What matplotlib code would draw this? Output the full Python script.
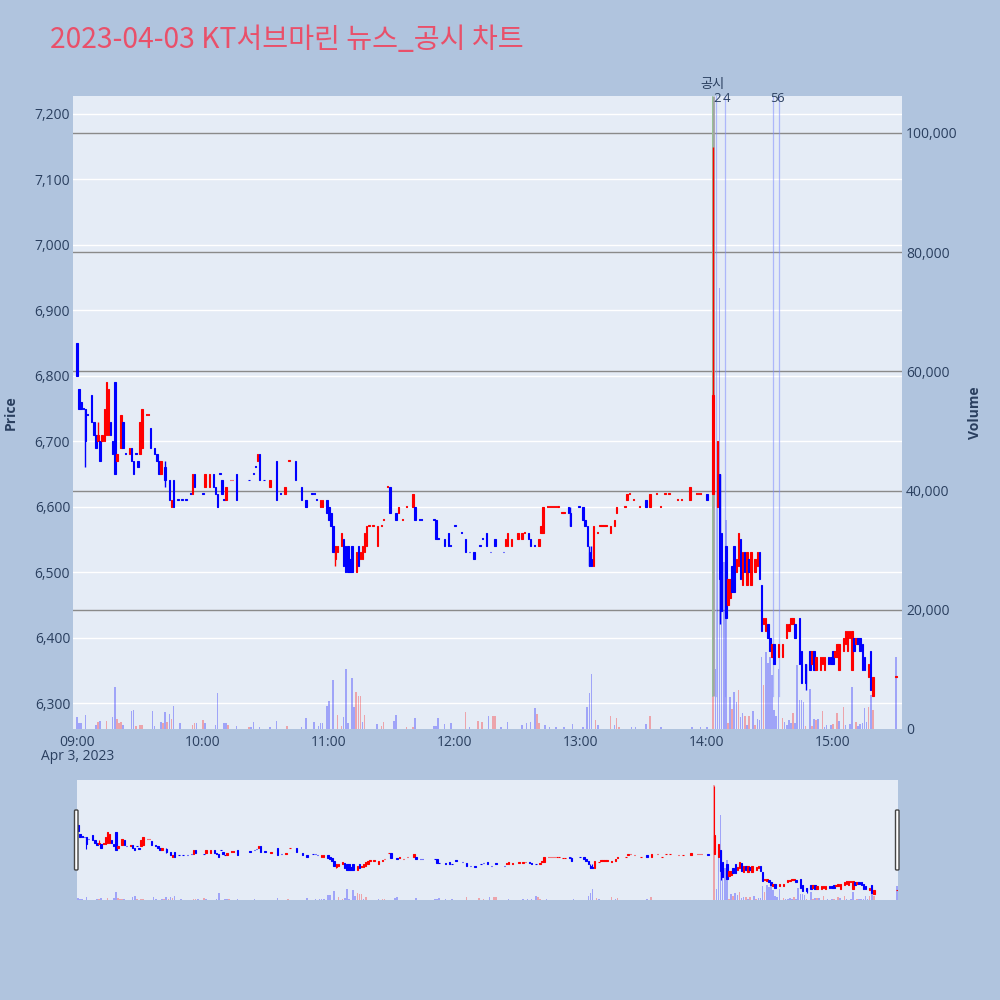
import matplotlib
matplotlib.use("Agg")
import matplotlib.pyplot as plt
from matplotlib.patches import FancyBboxPatch

plt.rcParams['font.family'] = ['Open Sans', 'DejaVu Sans']

# candles: minutes after 09:00, open, high, low, close
c_min = [0, 1, 2, 3, 4, 5, 7, 8, 9, 10, 11, 12, 13, 14, 15, 16, 17, 18, 19, 21,
         22, 23, 25, 26, 27, 28, 29, 30, 31, 33, 34, 35, 37, 38, 39, 40, 42, 44, 45, 46,
         48, 50, 52, 54, 55, 56, 60, 61, 63, 65, 66, 67, 68, 69, 70, 71, 73, 74, 76, 82,
         84, 85, 86, 87, 89, 92, 95, 97, 99, 101, 104, 107, 109, 112, 113, 114, 116, 117, 119, 120,
         121, 122, 123, 124, 126, 127, 128, 129, 130, 131, 133, 134, 135, 136, 137, 138, 139, 141, 143, 145,
         146, 148, 149, 152, 153, 155, 157, 160, 161, 163, 164, 170, 171, 172, 175, 177, 178, 180, 183, 185,
         187, 189, 192, 193, 195, 197, 199, 203, 204, 205, 207, 210, 212, 213, 215, 216, 218, 220, 221, 222,
         224, 225, 226, 227, 228, 229, 231, 232, 234, 235, 239, 241, 242, 243, 244, 245, 246, 248, 249, 250,
         251, 252, 254, 256, 257, 261, 262, 263, 265, 268, 271, 273, 276, 278, 280, 282, 286, 288, 292, 295,
         296, 297, 300, 303, 305, 306, 307, 309, 310, 311, 312, 313, 314, 315, 316, 317, 318, 319, 320, 321,
         323, 324, 325, 326, 327, 328, 329, 330, 331, 332, 334, 336, 338, 339, 340, 341, 342, 344, 345, 347,
         349, 350, 351, 352, 354, 355, 356, 358, 359, 360, 361, 362, 363, 365, 366, 367, 368, 369, 370, 371,
         372, 373, 374, 375, 377, 378, 379, 390]
c_open = [6850, 6780, 6760, 6750, 6750, 6740, 6770, 6730, 6710, 6700, 6700, 6700, 6700, 6710, 6710, 6730, 6700, 6790, 6670, 6690,
          6730, 6680, 6680, 6690, 6670, 6680, 6670, 6680, 6690, 6740, 6740, 6720, 6690, 6680, 6670, 6650, 6660, 6640, 6600, 6640,
          6610, 6610, 6610, 6620, 6620, 6650, 6620, 6630, 6630, 6650, 6630, 6620, 6650, 6640, 6610, 6610, 6640, 6640, 6650, 6640,
          6650, 6660, 6670, 6680, 6640, 6630, 6670, 6620, 6620, 6670, 6670, 6630, 6610, 6620, 6620, 6610, 6600, 6600, 6610, 6600,
          6590, 6570, 6520, 6530, 6540, 6550, 6540, 6540, 6520, 6540, 6500, 6540, 6520, 6520, 6530, 6540, 6570, 6570, 6540, 6570,
          6580, 6630, 6630, 6590, 6590, 6580, 6600, 6600, 6600, 6580, 6580, 6580, 6580, 6550, 6550, 6560, 6540, 6570, 6560, 6550,
          6530, 6530, 6540, 6550, 6560, 6530, 6550, 6530, 6540, 6540, 6540, 6550, 6550, 6560, 6560, 6550, 6540, 6540, 6560, 6560,
          6600, 6600, 6600, 6600, 6600, 6600, 6590, 6590, 6600, 6590, 6600, 6600, 6580, 6570, 6530, 6520, 6510, 6560, 6570, 6570,
          6570, 6570, 6560, 6570, 6590, 6600, 6610, 6620, 6610, 6600, 6610, 6600, 6620, 6600, 6620, 6620, 6610, 6610, 6610, 6620,
          6620, 6620, 6620, 6620, 6600, 6650, 6560, 6540, 6450, 6460, 6510, 6540, 6500, 6510, 6550, 6480, 6530, 6480, 6520, 6480,
          6500, 6510, 6530, 6480, 6420, 6410, 6420, 6400, 6370, 6390, 6370, 6370, 6400, 6410, 6420, 6420, 6420, 6430, 6380, 6360,
          6380, 6360, 6380, 6350, 6350, 6360, 6350, 6370, 6370, 6380, 6370, 6370, 6350, 6380, 6390, 6380, 6400, 6350, 6400, 6390,
          6400, 6400, 6390, 6370, 6340, 6380, 6310, 6340]
c_high = [6850, 6780, 6760, 6750, 6750, 6740, 6770, 6730, 6710, 6730, 6700, 6710, 6750, 6790, 6780, 6730, 6700, 6790, 6680, 6740,
          6730, 6680, 6690, 6690, 6670, 6680, 6670, 6730, 6750, 6740, 6740, 6720, 6690, 6680, 6670, 6670, 6670, 6640, 6610, 6640,
          6610, 6610, 6610, 6620, 6650, 6650, 6620, 6650, 6650, 6650, 6630, 6620, 6650, 6640, 6610, 6630, 6640, 6640, 6650, 6640,
          6650, 6660, 6680, 6680, 6640, 6640, 6670, 6620, 6630, 6670, 6670, 6630, 6610, 6620, 6620, 6610, 6610, 6610, 6610, 6600,
          6590, 6570, 6540, 6540, 6560, 6550, 6540, 6540, 6520, 6540, 6530, 6540, 6530, 6540, 6560, 6570, 6570, 6570, 6570, 6570,
          6580, 6630, 6630, 6590, 6600, 6580, 6600, 6620, 6600, 6580, 6580, 6580, 6580, 6550, 6550, 6560, 6540, 6570, 6560, 6550,
          6530, 6530, 6540, 6550, 6560, 6530, 6550, 6530, 6550, 6560, 6550, 6560, 6560, 6560, 6560, 6550, 6540, 6550, 6570, 6600,
          6600, 6600, 6600, 6600, 6600, 6600, 6590, 6590, 6600, 6600, 6600, 6600, 6580, 6570, 6540, 6540, 6570, 6560, 6570, 6570,
          6570, 6570, 6570, 6580, 6600, 6600, 6620, 6620, 6610, 6600, 6610, 6620, 6620, 6600, 6620, 6620, 6610, 6610, 6630, 6620,
          6620, 6620, 6620, 7150, 6700, 6650, 6560, 6540, 6490, 6490, 6510, 6540, 6520, 6560, 6550, 6530, 6530, 6530, 6520, 6530,
          6520, 6530, 6530, 6480, 6430, 6430, 6420, 6400, 6390, 6390, 6390, 6390, 6420, 6420, 6430, 6430, 6420, 6430, 6380, 6360,
          6380, 6380, 6380, 6370, 6370, 6370, 6370, 6370, 6370, 6380, 6380, 6390, 6390, 6400, 6410, 6410, 6410, 6410, 6400, 6400,
          6400, 6400, 6390, 6370, 6360, 6380, 6340, 6340]
c_low = [6800, 6750, 6750, 6750, 6660, 6740, 6730, 6710, 6690, 6700, 6670, 6700, 6700, 6710, 6710, 6710, 6680, 6650, 6670, 6690,
         6690, 6680, 6680, 6670, 6650, 6680, 6660, 6680, 6690, 6740, 6740, 6690, 6680, 6670, 6650, 6650, 6630, 6610, 6600, 6600,
         6610, 6610, 6610, 6620, 6620, 6630, 6620, 6630, 6630, 6630, 6620, 6600, 6650, 6620, 6610, 6610, 6640, 6640, 6610, 6640,
         6650, 6660, 6670, 6640, 6640, 6630, 6610, 6620, 6620, 6670, 6640, 6610, 6600, 6620, 6620, 6610, 6600, 6600, 6590, 6580,
         6570, 6530, 6510, 6530, 6540, 6510, 6500, 6500, 6500, 6500, 6500, 6510, 6520, 6520, 6530, 6540, 6570, 6570, 6540, 6570,
         6580, 6630, 6590, 6580, 6590, 6580, 6600, 6600, 6580, 6580, 6580, 6580, 6550, 6550, 6540, 6540, 6540, 6570, 6560, 6530,
         6530, 6520, 6540, 6550, 6540, 6530, 6540, 6530, 6540, 6540, 6540, 6550, 6550, 6560, 6550, 6540, 6540, 6540, 6560, 6560,
         6600, 6600, 6600, 6600, 6600, 6600, 6590, 6590, 6590, 6570, 6600, 6580, 6570, 6540, 6510, 6510, 6510, 6560, 6570, 6570,
         6570, 6570, 6560, 6570, 6590, 6600, 6610, 6620, 6610, 6600, 6600, 6600, 6620, 6600, 6620, 6620, 6610, 6610, 6610, 6620,
         6620, 6620, 6610, 6620, 6600, 6420, 6440, 6430, 6450, 6460, 6470, 6470, 6500, 6510, 6490, 6480, 6500, 6480, 6500, 6480,
         6500, 6510, 6490, 6410, 6420, 6410, 6400, 6380, 6370, 6360, 6370, 6370, 6400, 6410, 6420, 6420, 6400, 6360, 6330, 6320,
         6350, 6360, 6350, 6350, 6350, 6360, 6350, 6360, 6360, 6360, 6370, 6370, 6350, 6380, 6390, 6380, 6400, 6350, 6380, 6390,
         6390, 6380, 6350, 6350, 6340, 6320, 6310, 6340]
c_close = [6800, 6750, 6750, 6750, 6700, 6740, 6730, 6710, 6690, 6710, 6670, 6710, 6750, 6790, 6780, 6710, 6680, 6650, 6680, 6740,
           6690, 6680, 6690, 6670, 6650, 6680, 6660, 6730, 6750, 6740, 6740, 6690, 6680, 6670, 6650, 6670, 6640, 6610, 6610, 6600,
           6610, 6610, 6610, 6620, 6650, 6630, 6620, 6650, 6650, 6630, 6620, 6600, 6650, 6620, 6610, 6630, 6640, 6640, 6610, 6640,
           6650, 6660, 6680, 6640, 6640, 6640, 6610, 6620, 6630, 6670, 6640, 6610, 6600, 6620, 6620, 6610, 6610, 6610, 6590, 6580,
           6570, 6530, 6540, 6540, 6560, 6510, 6500, 6500, 6500, 6500, 6530, 6510, 6530, 6540, 6560, 6570, 6570, 6570, 6570, 6570,
           6580, 6630, 6590, 6580, 6600, 6580, 6600, 6620, 6580, 6580, 6580, 6580, 6550, 6550, 6540, 6540, 6540, 6570, 6560, 6530,
           6530, 6520, 6540, 6550, 6540, 6530, 6540, 6530, 6550, 6560, 6550, 6560, 6560, 6560, 6550, 6540, 6540, 6550, 6570, 6600,
           6600, 6600, 6600, 6600, 6600, 6600, 6590, 6590, 6590, 6570, 6600, 6580, 6570, 6540, 6510, 6510, 6570, 6560, 6570, 6570,
           6570, 6570, 6570, 6580, 6600, 6600, 6620, 6620, 6610, 6600, 6600, 6620, 6620, 6600, 6620, 6620, 6610, 6610, 6630, 6620,
           6620, 6620, 6610, 6770, 6700, 6490, 6440, 6430, 6490, 6490, 6470, 6470, 6520, 6560, 6490, 6530, 6500, 6530, 6500, 6530,
           6520, 6530, 6490, 6410, 6430, 6430, 6400, 6380, 6390, 6360, 6390, 6390, 6420, 6420, 6430, 6430, 6400, 6360, 6330, 6330,
           6350, 6380, 6350, 6370, 6370, 6370, 6370, 6360, 6360, 6360, 6380, 6390, 6390, 6400, 6410, 6410, 6410, 6410, 6380, 6400,
           6390, 6380, 6350, 6350, 6360, 6320, 6340, 6340]

# volume bars: minute, volume, colour
v_min = [0, 1, 2, 4, 9, 10, 11, 14, 17, 18, 19, 20, 21, 22, 26, 27, 28, 30, 31, 36,
         37, 40, 41, 42, 43, 44, 45, 46, 49, 55, 56, 57, 60, 61, 66, 67, 70, 71, 72, 76,
         82, 83, 84, 87, 92, 95, 100, 107, 109, 113, 115, 116, 117, 119, 120, 122, 124, 126, 127, 128,
         129, 131, 132, 133, 134, 135, 136, 137, 143, 145, 146, 151, 152, 157, 160, 161, 170, 171, 172, 175,
         178, 185, 187, 191, 193, 196, 198, 199, 202, 205, 212, 214, 216, 218, 219, 220, 223, 225, 228, 232,
         236, 241, 243, 244, 245, 247, 248, 254, 256, 257, 258, 264, 266, 271, 273, 278, 293, 297, 300, 303,
         304, 305, 306, 307, 308, 309, 310, 311, 312, 313, 314, 315, 316, 317, 318, 319, 320, 322, 323, 324,
         325, 326, 327, 328, 329, 330, 331, 332, 333, 334, 336, 337, 338, 339, 340, 341, 342, 343, 344, 345,
         346, 347, 349, 350, 351, 352, 353, 355, 356, 357, 359, 360, 362, 363, 365, 366, 368, 369, 371, 372,
         373, 374, 375, 376, 377, 378, 379, 390]
v_val = [1960, 1060, 950, 2350, 670, 1230, 1340, 1400, 2070, 7100, 1680, 1060, 1230, 670, 3020, 3190, 500, 670, 670, 3020,
         500, 1230, 1060, 2800, 1230, 2520, 1680, 3860, 1060, 670, 1060, 1060, 1510, 950, 670, 5990, 950, 950, 670, 500,
         390, 390, 1230, 390, 390, 1400, 500, 390, 1790, 1230, 500, 950, 950, 3920, 4760, 8200, 2350, 500, 2070, 10000,
         1060, 8500, 3750, 6270, 5540, 5540, 1230, 2350, 840, 500, 1230, 1400, 2350, 280, 280, 1790, 500, 500, 1790, 840,
         1060, 2910, 280, 1340, 1230, 2180, 2180, 2180, 390, 1230, 670, 1000, 1230, 3500, 2520, 1060, 600, 390, 390, 390,
         840, 390, 3700, 6000, 9200, 1510, 670, 2180, 670, 1790, 280, 280, 280, 840, 2180, 280, 280, 280, 280, 100000,
         10000, 45000, 74000, 32000, 28000, 35000, 1060, 5420, 3300, 6260, 4590, 6540, 2070, 2630, 2180, 670, 2180, 3080, 670, 1620,
         1510, 12000, 7380, 13000, 11000, 12000, 9000, 3190, 2180, 10000, 1790, 1230, 670, 1510, 950, 2630, 950, 10700, 4870, 4870,
         4590, 500, 6650, 500, 1620, 1510, 1620, 3080, 390, 670, 670, 790, 2740, 1340, 3640, 670, 790, 7000, 1230, 500,
         840, 1060, 3470, 1230, 3640, 5700, 3190, 12000]
v_col = list("bbbbbrbrbbrrrbbbrrrb" "bbrbrbrbbrrbrbbbbbrb" "rbbbbbrbbbbbbbbbrrbb"
             "bbbrrrbrbrrbbrrbbbbb" "brbrrbrrbbbbbbrrbbbb" "bbbbbrbrbrrbbbrbbbbr"
             "bbbbbbrbrbbrbbrbrbrb" "bbrbbbbbbbrbbbbrbbbb" "brbrbrbrbbbrrbrbbbrb"
             "bbbbrbrb")

# news / disclosure markers
news_min = [304.2, 308.8, 331.5, 334.4]
news_lab = ['2', '4', '5', '6']
disc_min = 302.8

tick_min = [0, 60, 120, 180, 240, 300, 360]
tick_lab = ['09:00', '10:00', '11:00', '12:00', '13:00', '14:00', '15:00']
price_ticks = [6300, 6400, 6500, 6600, 6700, 6800, 6900, 7000, 7100, 7200]
vol_ticks = [0, 20000, 40000, 60000, 80000, 100000]

RED = '#FF0000'
BLUE = '#0000FF'
TXT = '#2a3f5f'
P0, P1 = 6260.3, 7227.5
V1 = 106200

# candle colour: up red, down blue, flat keeps the previous colour
c_col = []
for o, c in zip(c_open, c_close):
    if c > o:
        c_col.append('r')
    elif c < o:
        c_col.append('b')
    else:
        c_col.append(c_col[-1] if c_col else 'b')


def draw_candles(ax, wick_lw, body_w, edge_lw):
    for t, o, h, l, c, k in zip(c_min, c_open, c_high, c_low, c_close, c_col):
        col = RED if k == 'r' else BLUE
        if h > max(o, c) or l < min(o, c):
            ax.vlines(t, l, h, color=col, lw=wick_lw, zorder=3)
        lo = min(o, c)
        ax.bar(t, max(abs(c - o), 1.5), bottom=lo, width=body_w, color=col,
               edgecolor=col, lw=edge_lw, zorder=4)


def draw_volume(ax):
    for t, v, k in zip(v_min, v_val, v_col):
        col = RED if k == 'r' else BLUE
        ax.bar(t, v, width=0.75, color=col, alpha=0.3, lw=0, zorder=2)


fig = plt.figure(figsize=(10, 10), dpi=100, facecolor='#B0C4DE')

# main chart
ax_v = fig.add_axes([0.073, 0.271, 0.829, 0.633], facecolor='#E5ECF6')
ax_p = ax_v.twinx()
ax_p.patch.set_visible(False)

ax_v.set_xlim(-1.9, 392.9)
ax_v.set_ylim(0, V1)
ax_p.set_ylim(P0, P1)

for p in price_ticks:
    ax_v.axhline((p - P0) / (P1 - P0) * V1, color='white', lw=1.0, zorder=0)
for v in vol_ticks[1:]:
    ax_v.axhline(v, color='#8a8a8a', lw=1.0, zorder=1)

draw_volume(ax_v)

y_low = (6310 - P0) / (P1 - P0) * V1
ax_v.plot([disc_min, disc_min], [y_low, V1], color='#a3a3a3', lw=2.0, zorder=3,
          solid_capstyle='butt')
ax_v.plot([disc_min - 0.3, disc_min - 0.3], [y_low, V1], color='#8fcf8f', lw=0.5, zorder=3)
for m in news_min:
    ax_v.plot([m, m], [y_low, V1], color='#7f8cff', alpha=0.55, lw=0.9, zorder=3)
for m, lab in zip(news_min, news_lab):
    ax_v.text(m + 0.5, V1 * 0.996, lab, ha='center', va='center', fontsize=9.5,
              color=TXT, clip_on=False)
ax_v.text(disc_min - 0.3, V1 * 1.018, '공시', ha='center', va='center', fontsize=9.5,
          color=TXT, family=['Noto Sans CJK KR', 'DejaVu Sans'], clip_on=False)

draw_candles(ax_p, 1.0, 0.7, 0.8)

for a in (ax_v, ax_p):
    for s in a.spines.values():
        s.set_visible(False)

ax_p.yaxis.tick_left()
ax_p.yaxis.set_label_position('left')
ax_p.set_yticks(price_ticks)
ax_p.set_yticklabels([f'{p:,}' for p in price_ticks])
ax_p.tick_params(axis='y', length=0, pad=2, labelsize=10, labelcolor=TXT)
ax_p.set_ylabel('Price', fontsize=10, color=TXT, fontweight='bold', labelpad=12)

ax_v.yaxis.tick_right()
ax_v.yaxis.set_label_position('right')
ax_v.set_yticks(vol_ticks)
ax_v.set_yticklabels([f'{v:,}' for v in vol_ticks])
ax_v.tick_params(axis='y', length=0, pad=3, labelsize=10, labelcolor=TXT)
ax_v.set_ylabel('Volume', fontsize=10, color=TXT, fontweight='bold', labelpad=7)

ax_v.set_xticks(tick_min)
ax_v.set_xticklabels(tick_lab)
ax_v.tick_params(axis='x', length=0, pad=4, labelsize=10, labelcolor=TXT)
fig.text(0.078, 0.243, 'Apr 3, 2023', ha='center', va='center', fontsize=10, color=TXT)

# range slider
ax_s = fig.add_axes([0.077, 0.10, 0.821, 0.12], facecolor='#E5ECF6')
ax_sp = ax_s.twinx()
ax_sp.patch.set_visible(False)
ax_s.set_xlim(-0.5, 390.5)
ax_s.set_ylim(0, 104500)
ax_sp.set_ylim(6263, 7197)
draw_volume(ax_s)
draw_candles(ax_sp, 0.8, 0.7, 0.8)
for a in (ax_s, ax_sp):
    a.set_xticks([])
    a.set_yticks([])
    for s in a.spines.values():
        s.set_visible(False)

for x0 in (74.5, 895.5):
    fig.add_artist(FancyBboxPatch((x0 / 1000, 0.13), 0.0035, 0.06,
                                  boxstyle='round,pad=0,rounding_size=0.001',
                                  transform=fig.transFigure, fc='white', ec='#444444', lw=1.0))

fig.text(0.05, 0.96, '2023-04-03 KT서브마린 뉴스_공시 차트', fontsize=20.3, color='#E9506A',
         family=['Noto Sans CJK KR', 'DejaVu Sans'], va='center', ha='left')

fig.savefig('out.png', dpi=100, facecolor=fig.get_facecolor())
